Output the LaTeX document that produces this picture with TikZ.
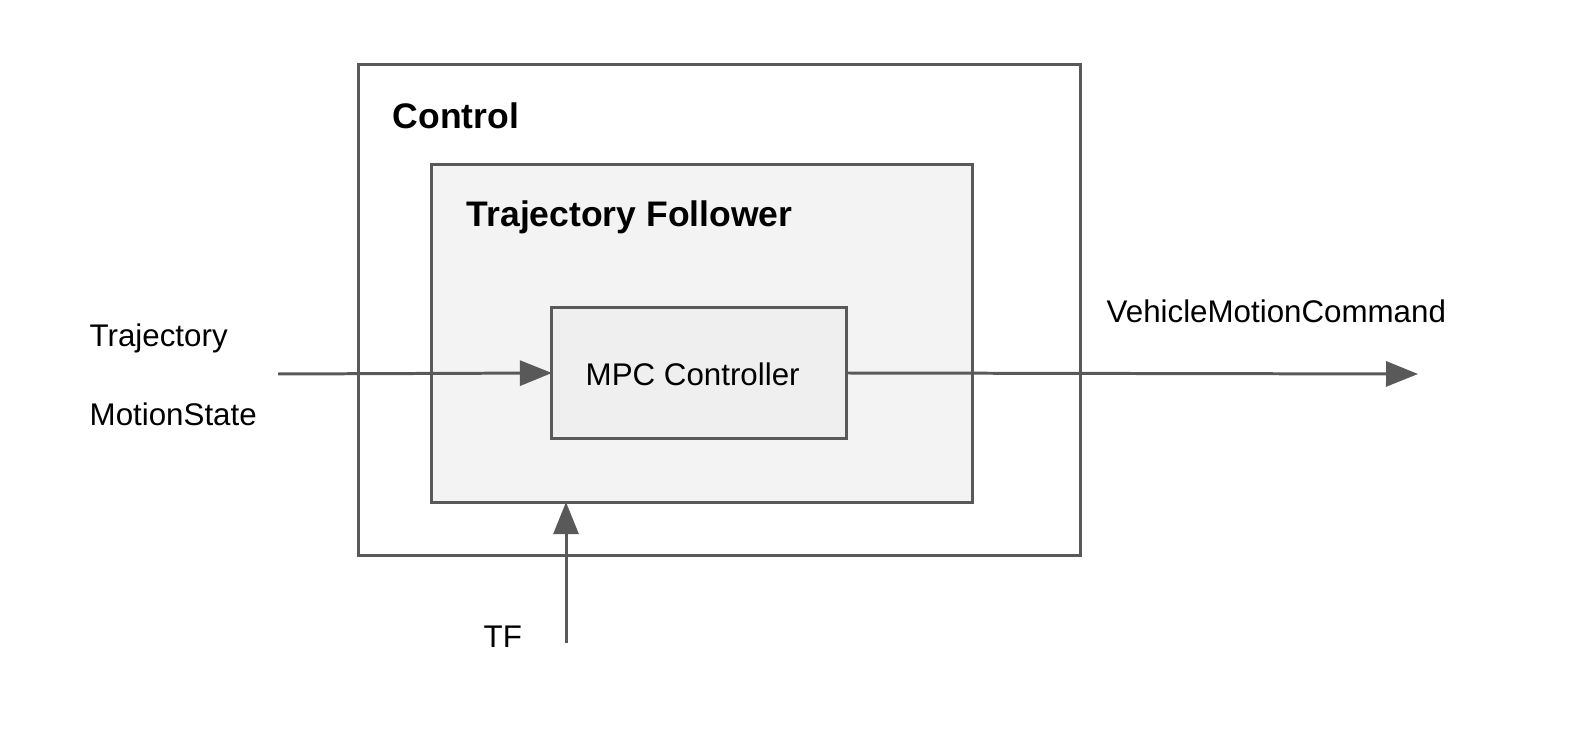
\documentclass[tikz,border=0pt]{standalone}
\usepackage{fontspec}
\setmainfont{Liberation Sans}
\usetikzlibrary{arrows.meta}
\definecolor{linegray}{HTML}{595959}
\definecolor{followergray}{HTML}{F3F3F3}
\definecolor{mpcgray}{HTML}{EFEFEF}
\tikzset{
    block/.style={draw=linegray,line width=0.85pt,inner sep=0pt,outer sep=0pt},
    title/.style={anchor=west,inner sep=0pt,font=\fontsize{10.1}{12}\selectfont\bfseries},
    signal/.style={anchor=west,inner sep=0pt,font=\fontsize{8.9}{11}\selectfont},
    flow/.style={draw=linegray,line width=0.85pt,-{Triangle[length=3.2mm,width=2.5mm]}}
}

\begin{document}
\begin{tikzpicture}[x=0.01cm,y=-0.01cm]
                            \useasboundingbox (0,0) rectangle (1580,731);
                            % boxes
                            \node[block,minimum width=7.21cm,minimum height=4.9cm] (control) at (719.5,310) {};
                            \node[block,fill=followergray,minimum width=5.4cm,minimum height=3.37cm] (follower) at (702,333.5) {};
                            \node[block,fill=mpcgray,minimum width=2.94cm,minimum height=1.3cm] (mpc) at (699,373) {};
                            \node[title] at (392,116) {Control};
                            \node[title] at (466,217) {Trajectory Follower};
                            \node[signal] at (585,374) {MPC Controller};
                            % signals
                            \node[signal] (traj) at (89,338) {Trajectory};
                            \node[signal] (state) at (89,414) {MotionState};
                            \node[signal] (cmd) at (1106,311) {VehicleMotionCommand};
                            \node[signal] (tf) at (483,637) {TF};
                            \coordinate (in) at (278,374);
                            \coordinate (out) at (1418,374);
                            \coordinate (tfstart) at (566,643);
                            \draw[flow] (in) -- (mpc.west);
                            \draw[flow] (mpc.east) -- (out);
                            \draw[flow] (tfstart) -- (tfstart |- follower.south);
                        \end{tikzpicture}
\end{document}
